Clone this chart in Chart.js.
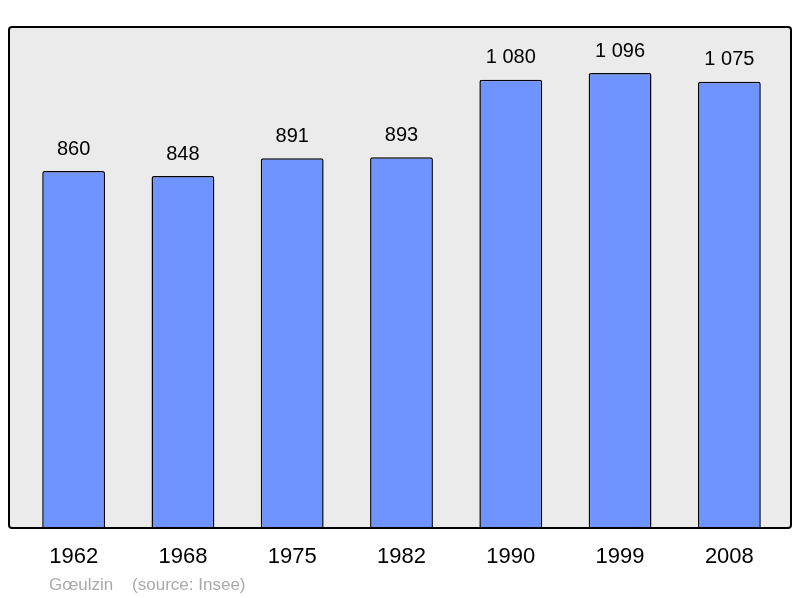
<!DOCTYPE html>
<html>
<head>
<meta charset="utf-8">
<script src="https://cdn.jsdelivr.net/npm/chart.js@4"></script>
<style>
  html, body { margin: 0; padding: 0; background: #ffffff; }
  #wrap { width: 800px; height: 598px; }
</style>
</head>
<body>
<div id="wrap"><canvas id="popChart"></canvas></div>
<script>
const years = ['1962', '1968', '1975', '1982', '1990', '1999', '2008'];
const population = [860, 848, 891, 893, 1080, 1096, 1075];
const yMax = 1207;
const footerText = 'Gœulzin    (source: Insee)';

// thousands separated with a space, like the original
const fmt = (v) => String(v).replace(/\B(?=(\d{3})+(?!\d))/g, ' ');

const framePlugin = {
    id: 'frame',
    beforeDraw(chart) {
        const c = chart.ctx, a = chart.chartArea;
        const x0 = a.left - 10, x1 = a.right + 7;
        c.save();
        c.beginPath();
        c.roundRect(x0, a.top, x1 - x0, a.bottom - a.top, 3);
        c.fillStyle = '#ebebeb';
        c.fill();
        c.restore();
    },
    afterDatasetsDraw(chart) {
        const c = chart.ctx, a = chart.chartArea;
        const x0 = a.left - 10, x1 = a.right + 7;
        c.save();
        c.beginPath();
        c.roundRect(x0, a.top, x1 - x0, a.bottom - a.top, 3);
        c.lineWidth = 2;
        c.strokeStyle = '#000000';
        c.stroke();

        // values above bars
        c.font = '20px "Liberation Sans", Arial, sans-serif';
        c.fillStyle = '#000000';
        c.textAlign = 'center';
        c.textBaseline = 'middle';
        chart.getDatasetMeta(0).data.forEach((bar, i) => {
            c.fillText(fmt(population[i]), bar.x, bar.y - 22);
        });

        // footer
        c.font = '17px "Liberation Sans", Arial, sans-serif';
        c.fillStyle = '#aaaaaa';
        c.textAlign = 'left';
        c.fillText(footerText, a.left + 30, a.bottom + 57);
        c.restore();
    }
};

const ctx = document.getElementById('popChart').getContext('2d');
const chart = new Chart(ctx, {
    type: 'bar',
    data: {
        labels: years,
        datasets: [{
            data: population,
            backgroundColor: '#7094ff',
            borderColor: '#000000',
            borderWidth: 1.5,
            borderRadius: 2,
            categoryPercentage: 0.575,
            barPercentage: 1
        }]
    },
    options: {
        responsive: true,
        maintainAspectRatio: false,
        animation: false,
        layout: { padding: { left: 19, right: 16, top: 27, bottom: 0 } },
        plugins: {
            legend: { display: false },
            tooltip: { enabled: false }
        },
        scales: {
            x: {
                grid: { display: false, drawTicks: false },
                border: { display: false },
                ticks: {
                    color: '#000000',
                    padding: 16,
                    font: { size: 22, family: '"Liberation Sans", Arial, sans-serif' }
                },
                afterFit: (s) => { s.height = 70; }
            },
            y: {
                display: false,
                min: 0,
                max: yMax
            }
        }
    },
    plugins: [framePlugin]
});
</script>
</body>
</html>
